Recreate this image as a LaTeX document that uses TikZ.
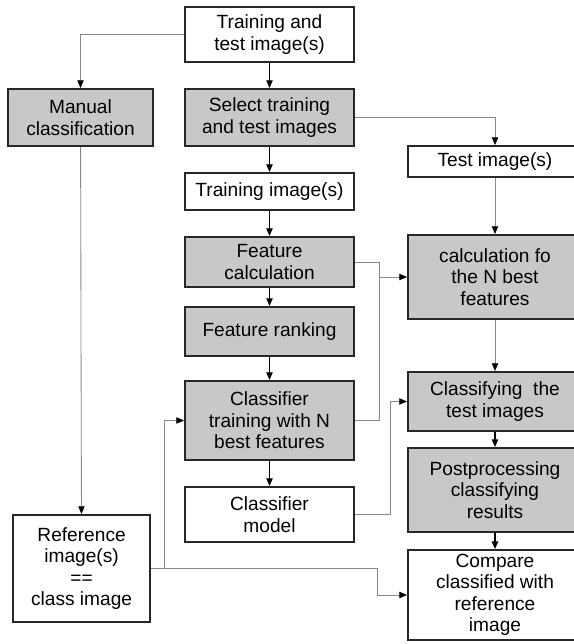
\documentclass[tikz,border=0pt]{standalone}
\usepackage{xcolor}
\usepackage{fontspec}
\setmainfont{Liberation Sans}
\usepackage{tikz}
\usetikzlibrary{positioning, arrows.meta, calc}
\definecolor{FCGray}{RGB}{200,200,200}
\definecolor{FCLine}{RGB}{40,40,40}
\definecolor{FCThin}{RGB}{135,135,135}

\begin{document}
\begin{tikzpicture}[
      box/.style={rectangle, draw=FCLine, line width=1.4pt, fill=white,
                  align=center, inner sep=0pt,
                  font=\fontsize{13.6}{15.3}\selectfont},
      shaded/.style={box, fill=FCGray},
      darr/.style={line width=1pt, black,
                   -{Triangle[length=5.5pt, width=4.5pt]}},
      garr/.style={line width=0.6pt, FCThin,
                   -{Triangle[length=5.5pt, width=4.5pt, color=black]}},
      gline/.style={line width=0.6pt, FCThin}
    ]
    \useasboundingbox (0, 0) rectangle (14.35, -16.1);

    % Left column
    \node[shaded, minimum width=3.625cm, minimum height=1.425cm]
          (manual) at (2.0125, -2.9375) {Manual\\classification};
    \node[box, minimum width=3.425cm, minimum height=2.675cm]
          (ref) at (2.04, -14.2125) {Reference\\image(s)\\==\\class image};

    % Middle column
    \node[box, minimum width=4.225cm, minimum height=1.375cm]
          (input) at (6.7375, -0.8625) {Training and\\test image(s)};
    \node[shaded, minimum width=4.225cm, minimum height=1.425cm]
          (select) at (6.7375, -2.9375) {Select training\\and test images};
    \node[box, minimum width=4.225cm, minimum height=0.925cm]
          (trainimg) at (6.7375, -4.7875) {Training image(s)};
    \node[shaded, minimum width=4.225cm, minimum height=1.25cm]
          (featcalc) at (6.7375, -6.55) {Feature\\calculation};
    \node[shaded, minimum width=4.225cm, minimum height=1.225cm]
          (featrank) at (6.7375, -8.2875) {Feature ranking};
    \node[shaded, minimum width=4.225cm, minimum height=1.975cm]
          (clftrain) at (6.7375, -10.5125)
          {Classifier\\training with N\\best features};
    \node[box, minimum width=4.225cm, minimum height=1.375cm]
          (clfmodel) at (6.7375, -12.8625) {Classifier\\model};

    % Right column (cut off at the page edge)
    \node[box, minimum width=4.35cm, minimum height=0.775cm]
          (testimg) at (12.375, -4.0375) {Test image(s)};
    \node[shaded, minimum width=4.35cm, minimum height=2.1cm]
          (bestcalc) at (12.375, -6.925) {calculation fo\\the N best\\features};
    \node[shaded, minimum width=4.35cm, minimum height=1.475cm]
          (classify) at (12.375, -10.0375) {Classifying\ \ the\\test images};
    \node[shaded, minimum width=4.35cm, minimum height=2.1cm]
          (postproc) at (12.375, -12.25) {Postprocessing\\classifying\\results};
    \node[box, minimum width=4.35cm, minimum height=2.25cm]
          (compare) at (12.375, -14.875)
          {Compare\\classified with\\reference\\image};

    % Join points
    \coordinate (featjoin)  at (9.475, -6.925);
    \coordinate (modeljoin) at (9.75, -10.0375);
    \coordinate (refup)     at (4.1, -10.5125);
    \coordinate (refdown)   at (9.425, -14.875);

    % Straight arrows
    \draw[darr] (input) -- (select);
    \draw[darr] (select) -- (trainimg);
    \draw[darr] (trainimg) -- (featcalc);
    \draw[darr] (featcalc) -- (featrank);
    \draw[darr] (featrank) -- (clftrain);
    \draw[darr] (clftrain) -- (clfmodel);
    \draw[garr] (testimg) -- (bestcalc);
    \draw[garr] (bestcalc) -- (classify);
    \draw[darr] (classify) -- (postproc);
    \draw[darr] (postproc) -- (compare);
    \draw[garr] (manual) -- (ref);

    % Side connectors
    \draw[garr] (input.west) -| (manual.north);
    \draw[garr] (select.east) -| (testimg.north);
    \draw[gline] (featcalc.east) -| (featjoin);
    \draw[gline] (clftrain.east) -| (featjoin);
    \draw[garr] (featjoin) -- (bestcalc.west);
    \draw[garr] (clfmodel.east) -| (modeljoin) -- (classify.west);
    \draw[garr] (ref.east) -| (refup) -- (clftrain.west);
    \draw[garr] (ref.east) -| (refdown) -- (compare.west);
  \end{tikzpicture}
\end{document}
